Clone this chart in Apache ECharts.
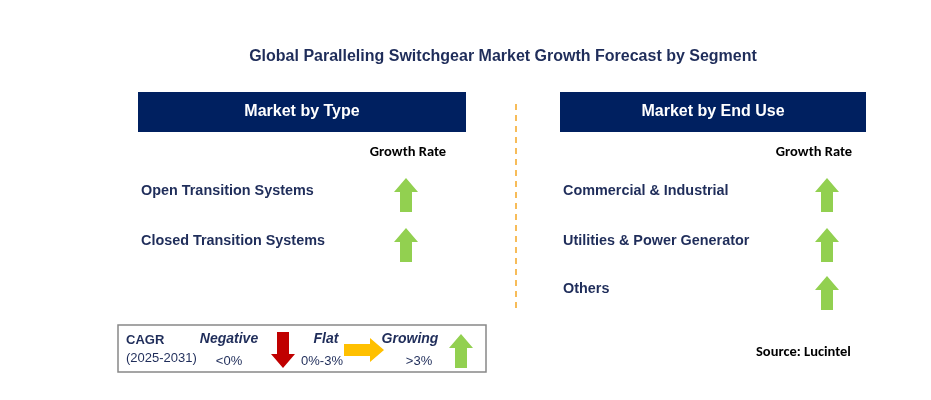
<!DOCTYPE html>
<html><head><meta charset="utf-8">
<script src="https://cdn.jsdelivr.net/npm/echarts@6/dist/echarts.min.js"></script>
<style>html,body{margin:0;background:#fff}#c{width:931px;height:400px}</style>
</head><body><div id="c"></div>
<script>
const title = 'Global Paralleling Switchgear Market Growth Forecast by Segment';
const typeItems = ['Open Transition Systems', 'Closed Transition Systems'];
const typeTrend = ['up', 'up'];
const endUseItems = ['Commercial & Industrial', 'Utilities & Power Generator', 'Others'];
const endUseTrend = ['up', 'up', 'up'];
const navy = '#002060', textNavy = '#1f2d5a';
const colors = { up: '#92d050', down: '#c00000', flat: '#ffc000' };

// arrow polygon centred at (cx, cy)
function arrow(dir, cx, cy) {
  let pts;
  if (dir === 'up') pts = [[0,-17],[12,-3],[6,-3],[6,17],[-6,17],[-6,-3],[-12,-3]];
  else if (dir === 'down') pts = [[0,18],[12,4],[6,4],[6,-18],[-6,-18],[-6,4],[-12,4]];
  else pts = [[20,0],[6,-12],[6,-6],[-20,-6],[-20,6],[6,6],[6,12]];
  return { type: 'polygon', shape: { points: pts.map(p => [cx + p[0], cy + p[1]]) }, style: { fill: colors[dir] } };
}
function txt(x, y, s, o) {
  return { type: 'text', x: x, y: y, style: Object.assign({ text: s, fill: textNavy, font: 'bold 14.4px Arial', textVerticalAlign: 'middle' }, o || {}) };
}

const g = [];
g.push(txt(503, 57, title, { textAlign: 'center', font: 'bold 16px Arial' }));
function panel(x0, w, head, items, trends, arrowX, labelX, rows) {
  g.push({ type: 'rect', shape: { x: x0, y: 92, width: w, height: 40 }, style: { fill: navy } });
  g.push(txt(x0 + w / 2, 112, head, { fill: '#fff', font: 'bold 16px Arial', textAlign: 'center' }));
  g.push(txt(labelX, 152, 'Growth Rate', { fill: '#000', font: 'bold 14.5px Carlito, Calibri, Arial', textAlign: 'center' }));
  items.forEach((s, i) => {
    g.push(txt(x0 + 3, rows[i], s));
    g.push(arrow(trends[i], arrowX, rows[i] + 4));
  });
}
panel(138, 328, 'Market by Type', typeItems, typeTrend, 406, 408, [191, 241]);
panel(560, 306, 'Market by End Use', endUseItems, endUseTrend, 827, 814, [191, 241, 289]);
g.push({ type: 'line', shape: { x1: 516, y1: 104, x2: 516, y2: 310 }, style: { stroke: '#f5a623', lineWidth: 1.5, lineDash: [6, 5] } });

// legend box
g.push({ type: 'rect', shape: { x: 118, y: 325, width: 368, height: 47 }, style: { fill: '#fff', stroke: '#888', lineWidth: 1.5 } });
g.push(txt(126, 340, 'CAGR', { font: 'bold 13px Arial' }));
g.push(txt(126, 358, '(2025-2031)', { font: '13px Arial' }));
g.push(txt(229, 339, 'Negative', { font: 'bold italic 14px Arial', textAlign: 'center' }));
g.push(txt(229, 361, '<0%', { font: '13px Arial', textAlign: 'center' }));
g.push(arrow('down', 283, 350));
g.push(txt(326, 339, 'Flat', { font: 'bold italic 14px Arial', textAlign: 'center' }));
g.push(txt(322, 361, '0%-3%', { font: '13px Arial', textAlign: 'center' }));
g.push(arrow('flat', 364, 350));
g.push(txt(410, 339, 'Growing', { font: 'bold italic 14px Arial', textAlign: 'center' }));
g.push(txt(419, 361, '>3%', { font: '13px Arial', textAlign: 'center' }));
g.push(arrow('up', 461, 351));
g.push(txt(756, 352, 'Source: Lucintel', { fill: '#000', font: 'bold 14.5px Carlito, Calibri, Arial' }));

echarts.init(document.getElementById('c')).setOption({ backgroundColor: '#fff', graphic: g });
</script></body></html>
